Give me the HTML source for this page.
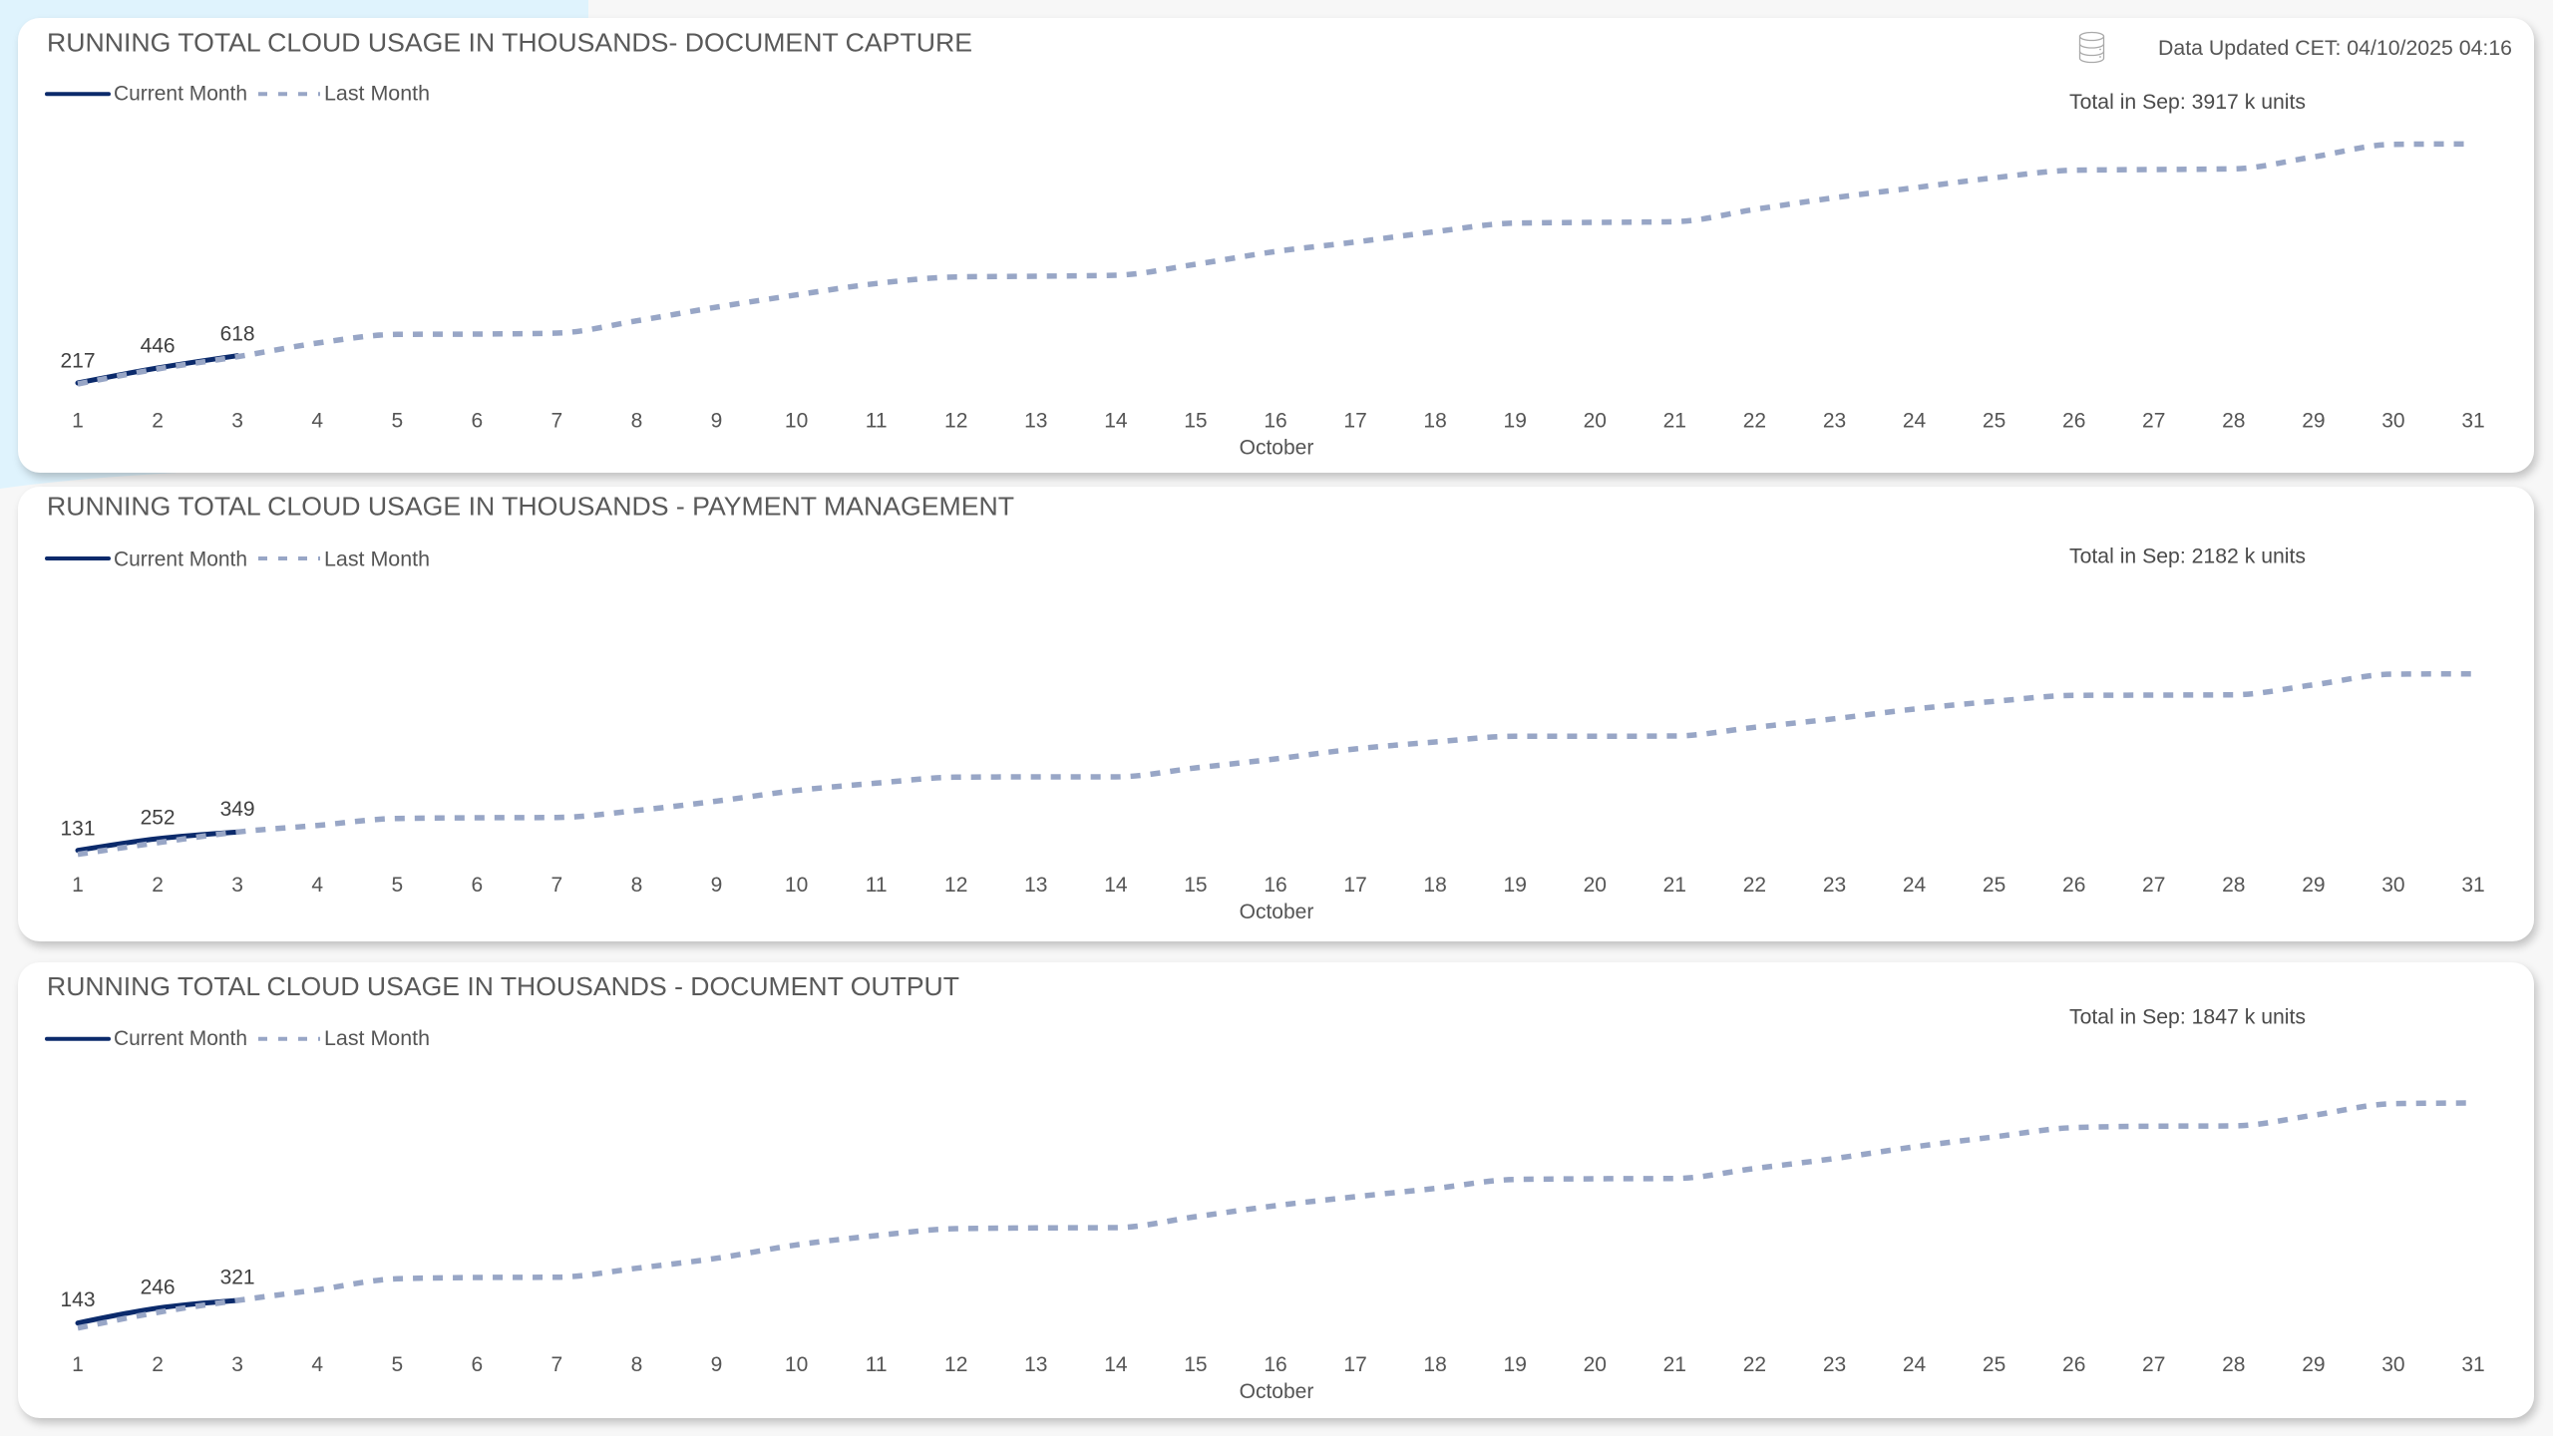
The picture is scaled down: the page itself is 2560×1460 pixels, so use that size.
<!DOCTYPE html>
<html>
<head>
<meta charset="utf-8">
<style>
  html,body{margin:0;padding:0;}
  body{width:2560px;height:1460px;position:relative;overflow:hidden;background:#ffffff;font-family:"Liberation Sans",Arial,sans-serif;}
  .bg{position:absolute;left:0;top:0;width:2560px;height:1440px;background:#f7f7f7;}
  .card{position:absolute;left:18px;width:2523px;background:#fff;border-radius:22px;box-shadow:3px 5px 9px rgba(0,0,0,0.22);}
  svg{position:absolute;left:0;top:0;}
</style>
</head>
<body>
<div class="bg"></div>
<svg width="2560" height="1460" style="z-index:0">
  <path d="M0,0 H590 V300 Q575,462 178,474 Q70,480 0,490 Z" fill="#dff3fd"/>
</svg>
<div class="card" style="top:18px;height:456px;z-index:1"></div>
<div class="card" style="top:488px;height:456px;z-index:1"></div>
<div class="card" style="top:965px;height:457px;z-index:1"></div>

<svg width="2560" height="1460" style="z-index:2" font-family="Liberation Sans, Arial, sans-serif">
  <!-- ===== Card 1 header ===== -->
  <text x="47" y="51.5" font-size="26" fill="#595959" textLength="928" lengthAdjust="spacingAndGlyphs">RUNNING TOTAL CLOUD USAGE IN THOUSANDS- DOCUMENT CAPTURE</text>
  <g fill="none" stroke="#a9a9a9" stroke-width="1.3">
    <ellipse cx="2097.5" cy="36.5" rx="12" ry="4"/>
    <path d="M2085.5,36.5 V58.5 A12,4 0 0 0 2109.5,58.5 V36.5"/>
    <path d="M2085.5,44 A12,4 0 0 0 2109.5,44"/>
    <path d="M2085.5,51.5 A12,4 0 0 0 2109.5,51.5"/>
  </g>
  <circle cx="2106" cy="49.5" r="0.9" fill="#a9a9a9"/>
  <circle cx="2106" cy="57" r="0.9" fill="#a9a9a9"/>
  <text x="2164" y="55" font-size="21" fill="#555" textLength="355" lengthAdjust="spacingAndGlyphs">Data Updated CET: 04/10/2025 04:16</text>
  <text x="2075" y="109" font-size="21" fill="#4a4a4a" textLength="237" lengthAdjust="spacingAndGlyphs">Total in Sep: 3917 k units</text>

  <!-- legend 1 -->
  <line x1="47" y1="94.3" x2="109" y2="94.3" stroke="#0b2a6b" stroke-width="4" stroke-linecap="round"/>
  <text x="114" y="100.7" font-size="21" fill="#555" textLength="134" lengthAdjust="spacingAndGlyphs">Current Month</text>
  <line x1="259" y1="94.3" x2="321" y2="94.3" stroke="#98a6c6" stroke-width="4" stroke-dasharray="9 11"/>
  <text x="325" y="100.7" font-size="21" fill="#555" textLength="106" lengthAdjust="spacingAndGlyphs">Last Month</text>

  <!-- ===== Card 2 header ===== -->
  <text x="47" y="516.7" font-size="26" fill="#595959" textLength="970" lengthAdjust="spacingAndGlyphs">RUNNING TOTAL CLOUD USAGE IN THOUSANDS - PAYMENT MANAGEMENT</text>
  <text x="2075" y="564.5" font-size="21" fill="#4a4a4a" textLength="237" lengthAdjust="spacingAndGlyphs">Total in Sep: 2182 k units</text>
  <line x1="47" y1="560" x2="109" y2="560" stroke="#0b2a6b" stroke-width="4" stroke-linecap="round"/>
  <text x="114" y="567.7" font-size="21" fill="#555" textLength="134" lengthAdjust="spacingAndGlyphs">Current Month</text>
  <line x1="259" y1="560" x2="321" y2="560" stroke="#98a6c6" stroke-width="4" stroke-dasharray="9 11"/>
  <text x="325" y="567.7" font-size="21" fill="#555" textLength="106" lengthAdjust="spacingAndGlyphs">Last Month</text>

  <!-- ===== Card 3 header ===== -->
  <text x="47" y="998" font-size="26" fill="#595959" textLength="915" lengthAdjust="spacingAndGlyphs">RUNNING TOTAL CLOUD USAGE IN THOUSANDS - DOCUMENT OUTPUT</text>
  <text x="2075" y="1026.5" font-size="21" fill="#4a4a4a" textLength="237" lengthAdjust="spacingAndGlyphs">Total in Sep: 1847 k units</text>
  <line x1="47" y1="1041.7" x2="109" y2="1041.7" stroke="#0b2a6b" stroke-width="4" stroke-linecap="round"/>
  <text x="114" y="1048" font-size="21" fill="#555" textLength="134" lengthAdjust="spacingAndGlyphs">Current Month</text>
  <line x1="259" y1="1041.7" x2="321" y2="1041.7" stroke="#98a6c6" stroke-width="4" stroke-dasharray="9 11"/>
  <text x="325" y="1048" font-size="21" fill="#555" textLength="106" lengthAdjust="spacingAndGlyphs">Last Month</text>

  <!-- ===== series paths (filled by script) ===== -->
  <path id="c1" fill="none" stroke="#0b2a6b" stroke-width="5" stroke-linecap="round"/>
  <path id="l1" fill="none" stroke="#98a6c6" stroke-width="5.5" stroke-dasharray="10 10"/>
  <path id="c2" fill="none" stroke="#0b2a6b" stroke-width="5" stroke-linecap="round"/>
  <path id="l2" fill="none" stroke="#98a6c6" stroke-width="5.5" stroke-dasharray="10 10"/>
  <path id="c3" fill="none" stroke="#0b2a6b" stroke-width="5" stroke-linecap="round"/>
  <path id="l3" fill="none" stroke="#98a6c6" stroke-width="5.5" stroke-dasharray="10 10"/>

  <!-- data labels -->
  <g font-size="21" fill="#404040" text-anchor="middle">
    <text x="78" y="368.5">217</text>
    <text x="158.1" y="353.5">446</text>
    <text x="238.1" y="341.5">618</text>
    <text x="78" y="837.5">131</text>
    <text x="158.1" y="826.5">252</text>
    <text x="238.1" y="818">349</text>
    <text x="78" y="1310">143</text>
    <text x="158.1" y="1297.5">246</text>
    <text x="238.1" y="1287.5">321</text>
  </g>

  <!-- x axis chart 1 -->
  <g font-size="21" fill="#555" text-anchor="middle" transform="translate(0,428.5)">
    <text x="78" y="0">1</text><text x="158.1" y="0">2</text><text x="238.1" y="0">3</text><text x="318.2" y="0">4</text><text x="398.3" y="0">5</text><text x="478.3" y="0">6</text><text x="558.4" y="0">7</text><text x="638.5" y="0">8</text><text x="718.5" y="0">9</text><text x="798.6" y="0">10</text><text x="878.7" y="0">11</text><text x="958.7" y="0">12</text><text x="1038.8" y="0">13</text><text x="1118.9" y="0">14</text><text x="1198.9" y="0">15</text><text x="1279" y="0">16</text><text x="1359.1" y="0">17</text><text x="1439.1" y="0">18</text><text x="1519.2" y="0">19</text><text x="1599.3" y="0">20</text><text x="1679.3" y="0">21</text><text x="1759.4" y="0">22</text><text x="1839.5" y="0">23</text><text x="1919.5" y="0">24</text><text x="1999.6" y="0">25</text><text x="2079.7" y="0">26</text><text x="2159.7" y="0">27</text><text x="2239.8" y="0">28</text><text x="2319.9" y="0">29</text><text x="2399.9" y="0">30</text><text x="2480" y="0">31</text>
    <text x="1280" y="27">October</text>
  </g>
  <!-- x axis chart 2 -->
  <g font-size="21" fill="#555" text-anchor="middle" transform="translate(0,894)">
    <text x="78" y="0">1</text><text x="158.1" y="0">2</text><text x="238.1" y="0">3</text><text x="318.2" y="0">4</text><text x="398.3" y="0">5</text><text x="478.3" y="0">6</text><text x="558.4" y="0">7</text><text x="638.5" y="0">8</text><text x="718.5" y="0">9</text><text x="798.6" y="0">10</text><text x="878.7" y="0">11</text><text x="958.7" y="0">12</text><text x="1038.8" y="0">13</text><text x="1118.9" y="0">14</text><text x="1198.9" y="0">15</text><text x="1279" y="0">16</text><text x="1359.1" y="0">17</text><text x="1439.1" y="0">18</text><text x="1519.2" y="0">19</text><text x="1599.3" y="0">20</text><text x="1679.3" y="0">21</text><text x="1759.4" y="0">22</text><text x="1839.5" y="0">23</text><text x="1919.5" y="0">24</text><text x="1999.6" y="0">25</text><text x="2079.7" y="0">26</text><text x="2159.7" y="0">27</text><text x="2239.8" y="0">28</text><text x="2319.9" y="0">29</text><text x="2399.9" y="0">30</text><text x="2480" y="0">31</text>
    <text x="1280" y="27">October</text>
  </g>
  <!-- x axis chart 3 -->
  <g font-size="21" fill="#555" text-anchor="middle" transform="translate(0,1375)">
    <text x="78" y="0">1</text><text x="158.1" y="0">2</text><text x="238.1" y="0">3</text><text x="318.2" y="0">4</text><text x="398.3" y="0">5</text><text x="478.3" y="0">6</text><text x="558.4" y="0">7</text><text x="638.5" y="0">8</text><text x="718.5" y="0">9</text><text x="798.6" y="0">10</text><text x="878.7" y="0">11</text><text x="958.7" y="0">12</text><text x="1038.8" y="0">13</text><text x="1118.9" y="0">14</text><text x="1198.9" y="0">15</text><text x="1279" y="0">16</text><text x="1359.1" y="0">17</text><text x="1439.1" y="0">18</text><text x="1519.2" y="0">19</text><text x="1599.3" y="0">20</text><text x="1679.3" y="0">21</text><text x="1759.4" y="0">22</text><text x="1839.5" y="0">23</text><text x="1919.5" y="0">24</text><text x="1999.6" y="0">25</text><text x="2079.7" y="0">26</text><text x="2159.7" y="0">27</text><text x="2239.8" y="0">28</text><text x="2319.9" y="0">29</text><text x="2399.9" y="0">30</text><text x="2480" y="0">31</text>
    <text x="1280" y="27">October</text>
  </g>
</svg>

<script>
(function(){
  function X(d){return 78 + (d-1)*80.067;}
  function sign(v){return v<0?-1:1;}
  function monotone(ys){
    var n=ys.length, xs=[], i;
    for(i=0;i<n;i++) xs.push(X(i+1));
    if(n<2) return "";
    var t=new Array(n);
    for(i=1;i<n-1;i++){
      var h0=xs[i]-xs[i-1], h1=xs[i+1]-xs[i];
      var s0=(ys[i]-ys[i-1])/h0, s1=(ys[i+1]-ys[i])/h1;
      var p=(s0*h1+s1*h0)/(h0+h1);
      t[i]=(sign(s0)+sign(s1))*Math.min(Math.abs(s0),Math.abs(s1),0.5*Math.abs(p))||0;
    }
    if(n===2){
      var s=(ys[1]-ys[0])/(xs[1]-xs[0]); t[0]=s; t[1]=s;
    } else {
      var h=xs[1]-xs[0]; t[0]=(3*(ys[1]-ys[0])/h - t[1])/2;
      h=xs[n-1]-xs[n-2]; t[n-1]=(3*(ys[n-1]-ys[n-2])/h - t[n-2])/2;
    }
    var d="M"+xs[0].toFixed(2)+","+ys[0].toFixed(2);
    for(i=0;i<n-1;i++){
      var dx=(xs[i+1]-xs[i])/3;
      d+=" C"+(xs[i]+dx).toFixed(2)+","+(ys[i]+dx*t[i]).toFixed(2)+" "+(xs[i+1]-dx).toFixed(2)+","+(ys[i+1]-dx*t[i+1]).toFixed(2)+" "+xs[i+1].toFixed(2)+","+ys[i+1].toFixed(2);
    }
    return d;
  }
  var L1=[385,370,357.7,344,335.3,335,334,321.7,308,295.7,284.3,277.7,277,276,265,252.2,242.7,232.3,223.7,223,222.3,210,198.3,188.3,178.3,170.7,170,169.3,157.3,144.7,144.3];
  var C1=[384,369,356.7];
  var L2=[856.7,845,834.3,827.7,820.7,820,819.7,812.7,803.3,792.7,785.3,779.3,779,779,770,761,751,744,738.3,738.3,738,729.3,720.7,711,703.3,697.3,697,696.7,686.7,676,675.7];
  var C2=[852.7,841,834.3];
  var L3=[1331.7,1316,1304,1293.3,1282.3,1281,1280.7,1271.7,1261.7,1248.3,1239,1232,1231.3,1231,1220,1209,1200,1191.7,1182.7,1182,1181.7,1171.7,1161.7,1150,1140,1130.7,1129.3,1129,1118.3,1106.7,1106];
  var C3=[1326.7,1311.7,1304];
  document.getElementById('l1').setAttribute('d',monotone(L1));
  document.getElementById('c1').setAttribute('d',monotone(C1));
  document.getElementById('l2').setAttribute('d',monotone(L2));
  document.getElementById('c2').setAttribute('d',monotone(C2));
  document.getElementById('l3').setAttribute('d',monotone(L3));
  document.getElementById('c3').setAttribute('d',monotone(C3));
})();
</script>
</body>
</html>
